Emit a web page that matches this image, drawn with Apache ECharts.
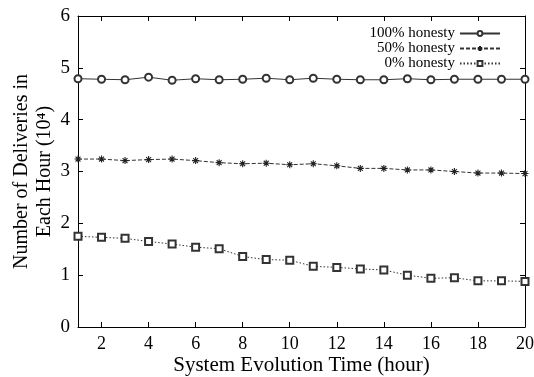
<!DOCTYPE html>
<html><head><meta charset="utf-8">
<script src="https://cdn.jsdelivr.net/npm/echarts@6/dist/echarts.min.js"></script>
<style>html,body{margin:0;padding:0;background:#fff}#c{width:534px;height:377px}</style>
</head><body><div id="c"></div>
<script>
const hours = [1,2,3,4,5,6,7,8,9,10,11,12,13,14,15,16,17,18,19,20];
const honesty100 = [4.79,4.78,4.77,4.82,4.76,4.79,4.77,4.78,4.80,4.77,4.80,4.78,4.77,4.77,4.79,4.77,4.78,4.78,4.78,4.78];
const honesty50 = [3.24,3.24,3.21,3.23,3.24,3.21,3.17,3.15,3.16,3.13,3.15,3.11,3.06,3.06,3.03,3.03,3.00,2.97,2.97,2.96];
const honesty0 = [1.75,1.73,1.71,1.65,1.60,1.54,1.51,1.36,1.30,1.29,1.17,1.15,1.12,1.10,1.00,0.94,0.95,0.89,0.89,0.88];
const xTicks = [2,4,6,8,10,12,14,16,18,20];
const seriesNames = ['100% honesty','50% honesty','0% honesty'];

const FONT = 'Liberation Serif';
const chart = echarts.init(document.getElementById('c'));
const pair = arr => hours.map((h,i)=>[h,arr[i]]);
const star = 'path://M0,5L10,5M5,0L5,10M1.5,1.5L8.5,8.5M8.5,1.5L1.5,8.5';
const baseAxisX = {
  type:'value', min:1, max:20,
  axisLine:{show:true,onZero:false,lineStyle:{color:'#000',width:1}},
  splitLine:{show:false},
  axisTick:{show:true,inside:true,length:5,customValues:xTicks,lineStyle:{color:'#000'}},
};
const baseAxisY = {
  type:'value', min:0, max:6, interval:1,
  axisLine:{show:true,onZero:false,lineStyle:{color:'#000',width:1}},
  splitLine:{show:false},
  axisTick:{show:true,inside:true,length:5,lineStyle:{color:'#000'}},
};
chart.setOption({
  animation:false,
  backgroundColor:'#fff',
  grid:{left:78,right:9,top:16,bottom:50,outerBoundsMode:'none',containLabel:false},
  legend:{
    data:seriesNames, right:28, top:21, orient:'vertical', align:'right',
    itemWidth:40, itemHeight:6, itemGap:0,
    textStyle:{fontFamily:FONT,fontSize:15,color:'#000',lineHeight:15}
  },
  xAxis:[
    Object.assign({}, baseAxisX, {position:'bottom',
      axisLabel:{customValues:xTicks,fontFamily:FONT,fontSize:18,color:'#000',margin:8},
      name:'System Evolution Time (hour)', nameLocation:'middle', nameGap:28, nameMoveOverlap:false,
      nameTextStyle:{fontFamily:FONT,fontSize:21,color:'#000'}}),
    Object.assign({}, baseAxisX, {position:'top', axisLabel:{show:false}})
  ],
  yAxis:[
    Object.assign({}, baseAxisY, {position:'left',
      axisLabel:{fontFamily:FONT,fontSize:19,color:'#000',margin:8},
      name:'Number of Deliveries in\nEach Hour (10⁴)', nameLocation:'middle', nameGap:22, nameMoveOverlap:false,
      nameTextStyle:{fontFamily:FONT,fontSize:20,color:'#000',lineHeight:23}}),
    Object.assign({}, baseAxisY, {position:'right', axisLabel:{show:false}})
  ],
  series:[
    {name:seriesNames[0],type:'line',data:pair(honesty100),symbol:'emptyCircle',symbolSize:7,
     lineStyle:{color:'#333',width:1,type:'solid'},itemStyle:{color:'#333',borderColor:'#333',borderWidth:0.8}},
    {name:seriesNames[1],type:'line',data:pair(honesty50),symbol:star,symbolSize:7,
     lineStyle:{color:'#333',width:1,type:[4,2]},itemStyle:{color:'#333',borderColor:'#222',borderWidth:1.1}},
    {name:seriesNames[2],type:'line',data:pair(honesty0),symbol:'emptyRect',symbolSize:7,
     lineStyle:{color:'#333',width:1,type:[1.5,2]},itemStyle:{color:'#333',borderColor:'#444',borderWidth:0.7}}
  ]
});
</script></body></html>
